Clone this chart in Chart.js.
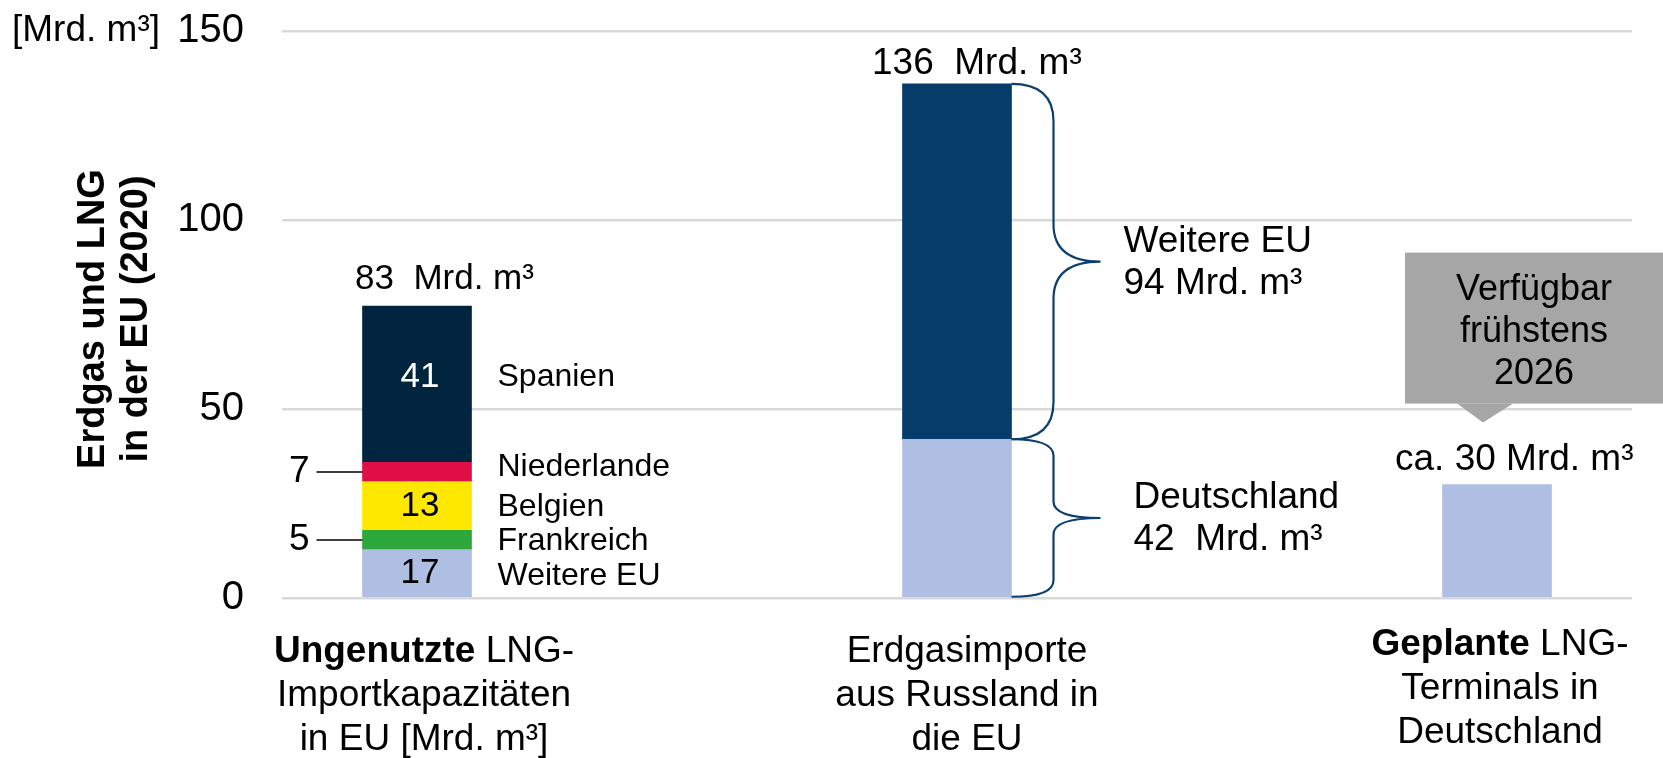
<!DOCTYPE html>
<html lang="de">
<head>
<meta charset="utf-8">
<title>Erdgas und LNG in der EU</title>
<script src="https://cdn.jsdelivr.net/npm/chart.js@4.4.1/dist/chart.umd.min.js"></script>
<style>
  html, body { margin: 0; padding: 0; background: #fff; }
  #wrap { width: 1663px; height: 758px; position: relative; }
</style>
</head>
<body>
<div id="wrap"><canvas id="chart"></canvas></div>
<script>
// Data
const categoryLines = [
    ['Ungenutzte LNG-', 'Importkapazitäten', 'in EU [Mrd. m³]'],
    ['Erdgasimporte', 'aus Russland in', 'die EU'],
    ['Geplante LNG-', 'Terminals in', 'Deutschland']
];
const categoryBold = ['Ungenutzte', '', 'Geplante'];

// unused LNG import capacity, bottom to top (bar heights as drawn)
const lngCountries = ['Weitere EU', 'Frankreich', 'Belgien', 'Niederlande', 'Spanien'];
const lngValues = [12.8, 5.1, 12.9, 5.1, 41.3];
const lngLabels = ['17', '5', '13', '7', '41'];

// gas imports from Russia, bottom to top
const russiaParts = ['Deutschland', 'Weitere EU'];
const russiaValues = [42, 94];
const russiaLabels = [['Deutschland', '42  Mrd. m³'], ['Weitere EU', '94 Mrd. m³']];

// planned LNG terminals in Germany
const plannedValues = [30];

const totalLabels = ['83  Mrd. m³', '136  Mrd. m³', 'ca. 30 Mrd. m³'];
const calloutLines = ['Verfügbar', 'frühstens', '2026'];
const yTicks = [0, 50, 100, 150];
const yTitle = ['Erdgas und LNG', 'in der EU (2020)'];
const yUnit = '[Mrd. m³]';

// Styles
const FONT = "'Liberation Sans', Arial, sans-serif";
const lngColors = ['#AFBFE4', '#2EA83A', '#FFE800', '#DF0E45', '#02253F'];
const russiaColors = ['#AFBFE4', '#053C69'];
const plannedColor = '#AFBFE4';
const braceColor = '#0B3F6E';
const calloutColor = '#A6A6A6';

function font(size, bold) {
    return (bold ? 'bold ' : '') + size + 'px ' + FONT;
}

// Build datasets
const datasets = [];
lngCountries.forEach((name, i) => {
    datasets.push({ label: name, data: [{ x: 0, y: lngValues[i] }], backgroundColor: lngColors[i] });
});
russiaParts.forEach((name, i) => {
    datasets.push({ label: name, data: [{ x: 1, y: russiaValues[i] }], backgroundColor: russiaColors[i] });
});
datasets.push({ label: 'Geplant', data: [{ x: 2, y: plannedValues[0] }], backgroundColor: plannedColor });

function drawBrace(ctx, x0, yTop, yBot, xs, xt) {
    const mid = (yTop + yBot) / 2;
    const r = (yBot - yTop) * 0.105;
    ctx.beginPath();
    ctx.moveTo(x0, yTop);
    ctx.quadraticCurveTo(xs, yTop, xs, yTop + r);
    ctx.lineTo(xs, mid - r);
    ctx.quadraticCurveTo(xs, mid, xt, mid);
    ctx.quadraticCurveTo(xs, mid, xs, mid + r);
    ctx.lineTo(xs, yBot - r);
    ctx.quadraticCurveTo(xs, yBot, x0, yBot);
    ctx.stroke();
    return mid;
}

// Texts, braces and callout drawn on top of the bars
const annotations = {
    id: 'annotations',
    afterDatasetsDraw(chart) {
        const ctx = chart.ctx;
        const xs = chart.scales.x;
        const ys = chart.scales.y;
        const els = chart.data.datasets.map((ds, i) => chart.getDatasetMeta(i).data[0]);

        // top of each stack
        const tops = [];
        chart.data.datasets.forEach((ds, i) => {
            const c = ds.data[0].x;
            tops[c] = Math.min(tops[c] === undefined ? Infinity : tops[c], els[i].y);
        });

        ctx.save();
        ctx.fillStyle = '#000';

        // unit label
        ctx.font = font(37);
        ctx.textAlign = 'left';
        ctx.textBaseline = 'middle';
        ctx.fillText(yUnit, 12, ys.getPixelForValue(150));

        // axis title
        ctx.save();
        ctx.translate(0, 319);
        ctx.rotate(-Math.PI / 2);
        ctx.font = font(38, true);
        ctx.textAlign = 'center';
        ctx.textBaseline = 'alphabetic';
        yTitle.forEach((t, i) => ctx.fillText(t, 0, 104 + i * 43));
        ctx.restore();

        // category labels
        const catDx = [7, 10, 3];
        ctx.textBaseline = 'alphabetic';
        ctx.textAlign = 'left';
        categoryLines.forEach((lines, i) => {
            const cx = xs.getPixelForValue(i) + catDx[i];
            lines.forEach((line, j) => {
                const y = 662 + j * 44 - (i === 2 ? 7 : 0);
                const bold = j === 0 ? categoryBold[i] : '';
                const rest = line.slice(bold.length);
                ctx.font = font(37, true);
                const wb = bold ? ctx.measureText(bold).width : 0;
                ctx.font = font(37);
                const wr = ctx.measureText(rest).width;
                let x = cx - (wb + wr) / 2;
                if (bold) {
                    ctx.font = font(37, true);
                    ctx.fillText(bold, x, y);
                    x += wb;
                    ctx.font = font(37);
                }
                ctx.fillText(rest, x, y);
            });
        });

        // totals above bars
        const totalDx = [-62, -85, -102];
        const totalGap = [17, 10, 15];
        const totalSize = [35, 37, 37];
        totalLabels.forEach((t, i) => {
            ctx.font = font(totalSize[i]);
            ctx.fillText(t, xs.getPixelForValue(i) + totalDx[i], tops[i] - totalGap[i]);
        });

        // LNG bar: inner values, side names, leader lines
        const sideDy = [3, 1, 1, -5, -7];
        lngCountries.forEach((name, i) => {
            const el = els[i];
            const left = el.x - el.width / 2;
            const right = el.x + el.width / 2;
            const cy = (el.y + el.base) / 2;
            ctx.textBaseline = 'middle';
            ctx.font = font(32);
            ctx.textAlign = 'left';
            ctx.fillStyle = '#000';
            ctx.fillText(name, right + 26, cy + sideDy[i]);
            if (el.base - el.y > 30) {
                ctx.font = font(35);
                ctx.textAlign = 'center';
                ctx.fillStyle = i === lngCountries.length - 1 ? '#fff' : '#000';
                ctx.fillText(lngLabels[i], el.x + 3, cy + (i === 4 ? -7 : 0));
            } else {
                ctx.strokeStyle = '#000';
                ctx.lineWidth = 1.5;
                ctx.beginPath();
                ctx.moveTo(left - 46, cy);
                ctx.lineTo(left, cy);
                ctx.stroke();
                ctx.font = font(37);
                ctx.textAlign = 'right';
                ctx.fillStyle = '#000';
                ctx.fillText(lngLabels[i], left - 53, cy);
            }
        });

        // braces for Russian imports
        ctx.strokeStyle = braceColor;
        ctx.lineWidth = 2.2;
        ctx.fillStyle = '#000';
        ctx.textAlign = 'left';
        ctx.textBaseline = 'alphabetic';
        ctx.font = font(37);
        const textDx = [122, 112];
        russiaParts.forEach((name, k) => {
            const el = els[lngCountries.length + k];
            const right = el.x + el.width / 2;
            const mid = drawBrace(ctx, right, el.y, el.base, right + 42, right + 89);
            ctx.fillText(russiaLabels[k][0], right + textDx[k], mid - 10);
            ctx.fillText(russiaLabels[k][1], right + textDx[k], mid + 32);
        });

        // callout above planned terminals
        const cx3 = xs.getPixelForValue(2);
        const top3 = tops[2];
        const boxL = cx3 - 92, boxR = chart.width;
        const boxT = top3 - 232, boxB = top3 - 81;
        ctx.fillStyle = calloutColor;
        ctx.fillRect(boxL, boxT, boxR - boxL, boxB - boxT);
        ctx.beginPath();
        ctx.moveTo(cx3 - 40, boxB);
        ctx.lineTo(cx3 + 16, boxB);
        ctx.lineTo(cx3 - 14, top3 - 62);
        ctx.closePath();
        ctx.fill();
        ctx.fillStyle = '#000';
        ctx.textAlign = 'center';
        ctx.font = font(36);
        calloutLines.forEach((t, i) => {
            ctx.fillText(t, (boxL + boxR) / 2, top3 - 185 + i * 42);
        });

        ctx.restore();
    }
};

const chart = new Chart(document.getElementById('chart'), {
    type: 'bar',
    data: { datasets: datasets },
    options: {
        responsive: true,
        maintainAspectRatio: false,
        animation: false,
        layout: { padding: { left: 0, top: 31, right: 31, bottom: 160 } },
        datasets: { bar: { barThickness: 109, borderWidth: 0 } },
        scales: {
            x: {
                type: 'linear',
                min: -0.25,
                max: 2.25,
                offset: false,
                stacked: true,
                display: false
            },
            y: {
                stacked: true,
                min: 0,
                max: 150,
                afterFit: s => { s.width = 282; },
                afterBuildTicks: s => { s.ticks = yTicks.map(v => ({ value: v })); },
                border: { display: false },
                grid: { color: '#D9D9D9', lineWidth: 2.5, drawTicks: true, tickLength: 38, tickColor: 'rgba(0,0,0,0)' },
                ticks: {
                    padding: 0,
                    color: '#000',
                    font: { family: FONT, size: 40 }
                }
            }
        },
        plugins: {
            legend: { display: false },
            tooltip: { enabled: false }
        }
    },
    plugins: [annotations]
});
</script>
</body>
</html>
